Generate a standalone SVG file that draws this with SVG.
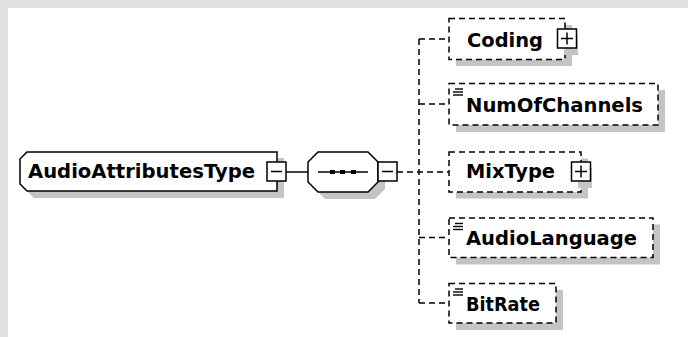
<svg xmlns="http://www.w3.org/2000/svg" width="688" height="337" viewBox="0 0 688 337">
<style>
.bg{fill:#ffffff}
.band{fill:#e0e0e0}
.sh{fill:#c4c4c4;stroke:none}
.solid{fill:#ffffff;stroke:#000000;stroke-width:1.5}
.dash{fill:#ffffff;stroke:#000000;stroke-width:1.5;stroke-dasharray:6 4}
.conn{fill:none;stroke:#000000;stroke-width:1.5}
.dconn{fill:none;stroke:#000000;stroke-width:1.5;stroke-dasharray:6 4}
.pm{fill:#ffffff;stroke:#000000;stroke-width:1.5}
.sign{stroke:#000000;stroke-width:1.5;fill:none}
.lbl{font-family:"DejaVu Sans","Liberation Sans",sans-serif;font-weight:bold;font-size:20px;fill:#000000}
.icon{stroke:#000000;stroke-width:1.4;fill:none}
</style>
<rect class="bg" x="0" y="0" width="688" height="337"/>
<rect class="band" x="0" y="0" width="688" height="8"/>
<rect class="band" x="0" y="0" width="8" height="337"/>

<g id="connectors">
  <line class="conn" x1="286" y1="172" x2="308" y2="172"/>
  <line class="dconn" x1="397" y1="172" x2="449" y2="172"/>
  <line class="dconn" x1="419" y1="39" x2="419" y2="303"/>
  <line class="dconn" x1="419" y1="39" x2="449" y2="39"/>
  <line class="dconn" x1="419" y1="104" x2="449" y2="104"/>
  <line class="dconn" x1="419" y1="237.5" x2="449" y2="237.5"/>
  <line class="dconn" x1="419" y1="303" x2="449" y2="303"/>
</g>

<g id="AudioAttributesType">
  <path class="sh" d="M34,158 H284 V198 H34 L27,191 V166 Z"/>
  <path class="solid" d="M27,152 H277 V191 H27 L20,184 V159 Z"/>
  <text class="lbl" x="28" y="178" textLength="227" lengthAdjust="spacingAndGlyphs">AudioAttributesType</text>
  <rect class="pm" x="267" y="162" width="19" height="19"/>
  <line class="sign" x1="271" y1="171.5" x2="282" y2="171.5"/>
</g>

<g id="sequence">
  <path class="sh" d="M325,159 H375 L385,169 V189 L375,199 H325 L315,189 V169 Z"/>
  <path class="solid" d="M318,152 H368 L378,162 V182 L368,192 H318 L308,182 V162 Z"/>
  <line class="conn" x1="318" y1="172" x2="368" y2="172"/>
  <rect x="330" y="170" width="5" height="4" fill="#000"/>
  <rect x="340" y="170" width="5" height="4" fill="#000"/>
  <rect x="351" y="170" width="5" height="4" fill="#000"/>
  <rect class="pm" x="378" y="162" width="19" height="19"/>
  <line class="sign" x1="382" y1="171.5" x2="393" y2="171.5"/>
</g>

<g id="Coding">
  <rect class="sh" x="456" y="25" width="116" height="41"/>
  <rect class="dash" x="449" y="18.5" width="116" height="41"/>
  <text class="lbl" x="467" y="46.5" textLength="76" lengthAdjust="spacingAndGlyphs">Coding</text>
  <rect class="sh" x="564" y="35" width="14" height="20"/>
  <rect class="pm" x="557.5" y="29" width="19" height="19"/>
  <line class="sign" x1="561" y1="38.5" x2="573" y2="38.5"/>
  <line class="sign" x1="567" y1="32.5" x2="567" y2="44.5"/>
</g>

<g id="NumOfChannels">
  <rect class="sh" x="456" y="90" width="209" height="42"/>
  <rect class="dash" x="449" y="83.5" width="209" height="41.5"/>
  <line class="icon" x1="455" y1="89" x2="463" y2="89"/>
  <line class="icon" x1="453" y1="92" x2="463" y2="92"/>
  <line class="icon" x1="453" y1="95" x2="463" y2="95"/>
  <text class="lbl" x="466" y="111.5" textLength="177" lengthAdjust="spacingAndGlyphs">NumOfChannels</text>
</g>

<g id="MixType">
  <rect class="sh" x="456" y="158.5" width="132" height="40"/>
  <rect class="dash" x="449" y="152" width="132" height="40"/>
  <text class="lbl" x="466" y="178" textLength="89" lengthAdjust="spacingAndGlyphs">MixType</text>
  <rect class="sh" x="578" y="168" width="14" height="20"/>
  <rect class="pm" x="571.5" y="162" width="19" height="19"/>
  <line class="sign" x1="575" y1="171.5" x2="587" y2="171.5"/>
  <line class="sign" x1="581" y1="165.5" x2="581" y2="177.5"/>
</g>

<g id="AudioLanguage">
  <rect class="sh" x="456" y="224.5" width="204" height="40"/>
  <rect class="dash" x="449" y="218" width="204" height="39.5"/>
  <line class="icon" x1="455" y1="223.5" x2="463" y2="223.5"/>
  <line class="icon" x1="453" y1="226.5" x2="463" y2="226.5"/>
  <line class="icon" x1="453" y1="229.5" x2="463" y2="229.5"/>
  <text class="lbl" x="466" y="244.5" textLength="171" lengthAdjust="spacingAndGlyphs">AudioLanguage</text>
</g>

<g id="BitRate">
  <rect class="sh" x="456" y="290" width="107" height="40"/>
  <rect class="dash" x="449" y="283.5" width="107" height="39.5"/>
  <line class="icon" x1="455" y1="289" x2="463" y2="289"/>
  <line class="icon" x1="453" y1="292" x2="463" y2="292"/>
  <line class="icon" x1="453" y1="295" x2="463" y2="295"/>
  <text class="lbl" x="466" y="310.5" textLength="74" lengthAdjust="spacingAndGlyphs">BitRate</text>
</g>
</svg>
